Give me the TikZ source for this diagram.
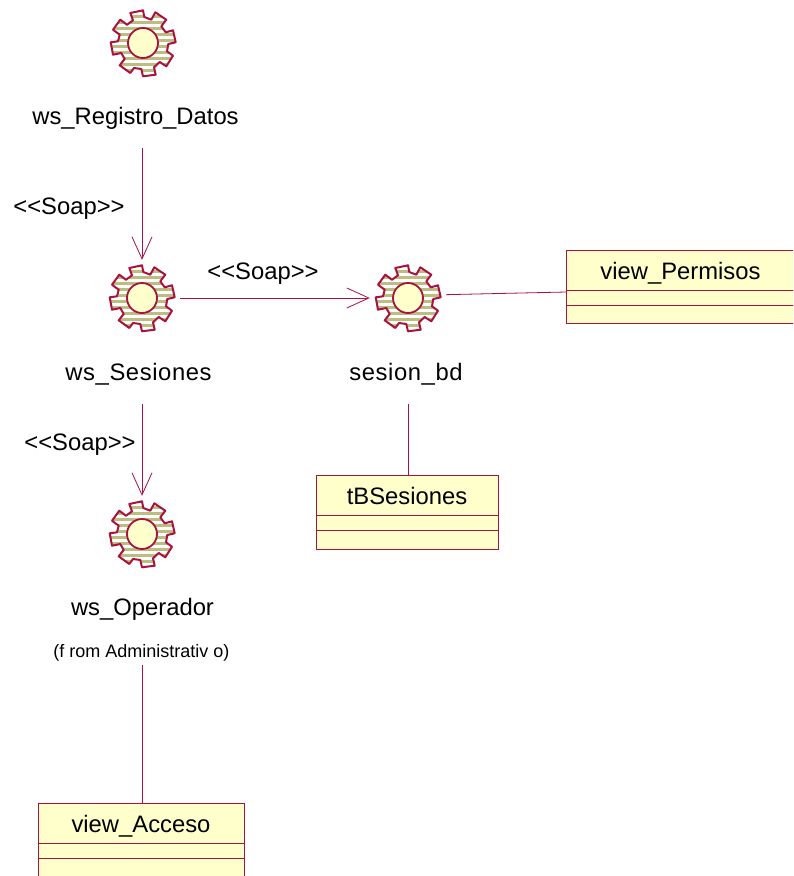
\documentclass[tikz,border=0pt]{standalone}
\usepackage{fontspec}
\usepackage{tikz}
\usetikzlibrary{arrows.meta,positioning}
\setmainfont{Liberation Sans}
\definecolor{umlred}{HTML}{A8123F}
\definecolor{umlyellow}{HTML}{FFFFCC}
\definecolor{umlolive}{HTML}{BDBD80}
\newcommand{\soap}{{<}{<}Soap{>}{>}}
\newcommand{\gearoutline}{(-12.7,-30) -- (0,-32.7) -- (1.3,-26) -- (8.3,-23.3) -- (12.3,-30.7) -- (23.3,-23.3) -- (18.3,-16.7) -- (22.7,-10.7) -- (30,-12.7) -- (32.7,-0.7) -- (25.3,1) -- (24,8.3) -- (30,12.7) -- (23.3,23.3) -- (16.7,19) -- (11,24.3) -- (12.7,31.7) -- (0,33.3) -- (-1.7,26) -- (-9,25) -- (-12.7,30) -- (-23.3,22.3) -- (-18.3,16) -- (-21.7,10) -- (-30,11.7) -- (-32.3,-0.7) -- (-25,-1.7) -- (-23.3,-8.3) -- (-30,-13.3) -- (-22.7,-23.3) -- (-16,-18.3) -- (-10,-22.7) -- cycle}
\tikzset{
    gearwheel/.pic={
        \fill[white] \gearoutline;
        \begin{scope}
            \clip \gearoutline;
            \foreach \s in {-33,-27,...,33}
                \draw[umlolive,line width=3pt] (-34,\s) -- (34,\s);
        \end{scope}
        \draw[umlred,line width=2pt,line join=round] \gearoutline;
        \draw[umlred,line width=1.8pt,fill=umlyellow] (0,0) circle (15);
    }
}
\begin{document}
\begin{tikzpicture}[x=1pt,y=-1pt,
    gearnode/.style={circle,minimum size=76pt,inner sep=0pt},
    txt/.style={font=\fontsize{23.8}{26}\selectfont,text height=17pt,text depth=.6pt,inner sep=0pt},
    lbl/.style={txt,minimum height=63pt},
    wide/.style={font=\fontsize{23.8}{26}\selectfont\addfontfeature{LetterSpace=2.5}},
    small/.style={font=\fontsize{18}{20}\selectfont,text height=13.4pt,text depth=0pt,inner sep=0pt,minimum height=28pt},
    soap/.style={umlred,line width=.8pt,-{Straight Barb[length=22pt,width=20pt,line width=.8pt]}},
    link/.style={umlred,line width=.8pt},
    head/.style={txt,text height=20pt,draw=umlred,fill=umlyellow,line width=.9pt,minimum height=40.5pt,outer sep=0pt},
    part/.style={draw=umlred,fill=umlyellow,line width=.9pt,inner sep=0pt,outer sep=0pt},
    base/.style={umlred,line width=1.8pt}]
\useasboundingbox (0,0) rectangle (793,876);
\clip (0,0) rectangle (793,876);

% components
\node[gearnode] (gRegistro) at (143,43) {};
\node[gearnode] (gSesiones) at (142,298) {};
\node[gearnode] (gBd) at (408,298) {};
\node[gearnode] (gOperador) at (142,534) {};
\foreach \g in {gRegistro,gSesiones,gBd,gOperador}
    \pic at (\g) {gearwheel};

\node[lbl] (lRegistro) at (135.5,116) {ws\_Registro\_Datos};
\node[lbl,wide] (lSesiones) at (138.5,372) {ws\_Sesiones};
\node[lbl,wide] (lBd) at (406,372) {sesion\_bd};
\node[lbl] (lOperador) at (142.5,607) {ws\_Operador};
\node[small] (lFrom) at (141.5,651) {(f rom Administrativ o)};

% classes
\node[head,minimum width=235pt,anchor=north west] (cPermisos) at (566,250) {};
\node[txt] (tPermisos) at (680.5,271) {view\_Permisos};
\node[part,minimum width=235pt,minimum height=14.5pt,below=0pt of cPermisos] (cPermisosA) {};
\node[part,minimum width=235pt,minimum height=18.5pt,below=0pt of cPermisosA] (cPermisosB) {};
\coordinate (pPermisos) at (566,292);

\node[head,minimum width=182pt,anchor=north west] (cSesiones) at (316,475) {tBSesiones};
\node[part,minimum width=182pt,minimum height=15pt,below=0pt of cSesiones] (cSesionesA) {};
\node[part,minimum width=182pt,minimum height=19pt,below=0pt of cSesionesA] (cSesionesB) {};

\node[head,minimum width=206pt,anchor=north west] (cAcceso) at (38,803) {view\_Acceso};
\node[part,minimum width=206pt,minimum height=15pt,below=0pt of cAcceso] (cAccesoA) {};
\node[part,minimum width=206pt,minimum height=30pt,below=0pt of cAccesoA] (cAccesoB) {};
\draw[base] (cPermisosB.south west) -- (cPermisosB.south east);
\draw[base] (cSesionesB.south west) -- (cSesionesB.south east);

% connectors
\draw[soap] (lRegistro.south -| gSesiones) --node[txt,left=17pt,yshift=-3pt,black]{\soap} (gSesiones.north);
\draw[soap] (gSesiones) --node[txt,above=18pt,xshift=-12pt,black]{\soap} (gBd);
\draw[soap] (lSesiones.south -| gOperador) --node[txt,left=6pt,yshift=7pt,black]{\soap} (gOperador.north);
\draw[link] (gBd.5) -- (pPermisos);
\draw[link] (lBd.south -| gBd) -- (cSesiones.north -| gBd);
\draw[link] (lFrom.south -| gOperador) -- (cAcceso.north -| gOperador);
\end{tikzpicture}
\end{document}
